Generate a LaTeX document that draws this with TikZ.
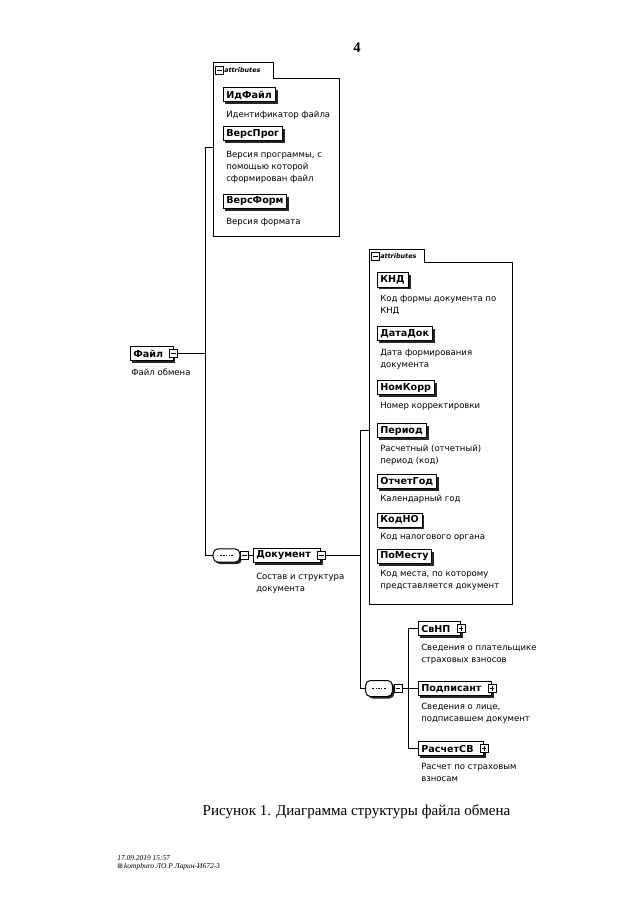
\documentclass[tikz,border=0pt]{standalone}
\usepackage{fontspec}
\setmainfont{Liberation Serif}
\newfontfamily\dv{DejaVu Sans}
\usetikzlibrary{shadows,shapes.misc}
\begin{document}
\begin{tikzpicture}[x=0.75pt,y=-0.75pt,
  conn/.style={line width=0.75pt},
  elem/.style={draw, line width=0.75pt, fill=white, font=\dv\bfseries\fontsize{7.2}{8}\selectfont,
    inner xsep=2.5pt, inner ysep=0pt, minimum height=10.5pt, anchor=west,
    drop shadow={shadow xshift=1.8pt, shadow yshift=-1.8pt, opacity=1, fill=black!85}},
  desc/.style={font=\dv\fontsize{6.4}{9}\selectfont, anchor=north west, align=left, inner sep=0pt},
  minusic/.style={draw, fill=white, minimum size=6pt, inner sep=0pt, line width=0.6pt,
    path picture={\draw[line width=0.6pt] ([xshift=1.2pt]path picture bounding box.west) -- ([xshift=-1.2pt]path picture bounding box.east);}},
  plusic/.style={minusic, path picture={\draw[line width=0.6pt] ([xshift=1.2pt]path picture bounding box.west) -- ([xshift=-1.2pt]path picture bounding box.east);
      \draw[line width=0.6pt] ([yshift=1.2pt]path picture bounding box.south) -- ([yshift=-1.2pt]path picture bounding box.north);}},
  attrbox/.style={inner sep=0pt, anchor=north west},
  attrline/.style={line width=0.75pt},
  tablabel/.style={font=\dv\itshape\bfseries\fontsize{4.8}{5}\selectfont, anchor=west, inner sep=0pt},
  seqnode/.style={rectangle, rounded corners=3.6pt,
    draw, fill=white, line width=0.75pt, minimum width=20pt, minimum height=10pt, inner sep=0pt,
    drop shadow={shadow xshift=1.5pt, shadow yshift=-1.5pt, opacity=1, fill=black!85},
    path picture={\draw[line width=1.1pt, dash pattern=on 1.6pt off 1pt on 1pt off 1pt on 1pt off 1pt on 1pt off 1pt on 1.6pt] ([xshift=-5pt]path picture bounding box.center) -- ([xshift=5pt]path picture bounding box.center);}},
  serifcap/.style={font=\fontsize{11.3}{14}\selectfont, inner sep=0pt},
  footer/.style={font=\itshape\fontsize{5.6}{7}\selectfont, anchor=west, inner sep=0pt}
]
\useasboundingbox[fill=white] (0,0) rectangle (640,905);

% page number
\node[font=\fontsize{11}{12}\selectfont\bfseries, inner sep=0pt] (pagenum) at (357,48) {4};

% ---------- attributes box 1 ----------
\node[attrbox, minimum width=93.75pt, minimum height=117.75pt] (ab1) at (213.5,78.5) {};
\node[attrbox, anchor=south west, minimum width=44.25pt, minimum height=11.25pt] (tab1) at (ab1.north west) {};
\draw[attrline] (ab1.south west) -- (tab1.north west) -- (tab1.north east) -- (tab1.south east) -- (ab1.north east) -- (ab1.south east) -- cycle;
\node[minusic, minimum size=5.5pt] (tab1ic) at (219.5,70.5) {};
\node[tablabel] (tab1lbl) at (224,70.5) {attributes};

\node[elem] (idfile) at (222.5,95) {ИдФайл};
\node[desc] (idfiled) at (226,111) {Идентификатор файла};
\node[elem] (versprog) at (222.5,134) {ВерсПрог};
\node[desc] (versprogd) at (226,151) {Версия программы, с\\помощью которой\\сформирован файл};
\node[elem] (versform) at (222.5,201.5) {ВерсФорм};
\node[desc] (versformd) at (226,218) {Версия формата};

% ---------- root element ----------
\node[elem] (file) at (129.5,353.5) {Файл\kern5pt};
\node[minusic] (fileic) at (file.east) {};
\node[desc] (filed) at (131,369) {Файл обмена};

\coordinate (jf) at (205.5,353.5);
\coordinate (v1top) at (205.5,147.5);
\coordinate (v1bot) at (205.5,555.5);
\draw[conn] (fileic.east) -- (jf);

% ---------- sequence 1 and Документ ----------
\node[seqnode] (seq1) at (226.5,555.5) {};
\node[minusic] (seq1ic) at (244.5,555.5) {};
\node[elem] (doc) at (252.5,555.5) {Документ\kern5pt};
\node[minusic] (docic) at (doc.east) {};
\node[desc] (docd) at (256,573) {Состав и структура\\документа};

\draw[conn] (ab1.west |- v1top) -- (v1top) -- (v1bot) -- (seq1.west);
\draw[conn] (seq1.east) -- (seq1ic.west);
\draw[conn] (seq1ic.east) -- (doc.west);

% ---------- attributes box 2 ----------
\node[attrbox, minimum width=106.5pt, minimum height=255.75pt] (ab2) at (369.5,262.5) {};
\node[attrbox, anchor=south west, minimum width=40.5pt, minimum height=9pt] (tab2) at (ab2.north west) {};
\draw[attrline] (ab2.south west) -- (tab2.north west) -- (tab2.north east) -- (tab2.south east) -- (ab2.north east) -- (ab2.south east) -- cycle;
\node[minusic, minimum size=5.5pt] (tab2ic) at (375.5,256.5) {};
\node[tablabel] (tab2lbl) at (380,256.5) {attributes};

\node[elem] (knd) at (376.5,280) {КНД};
\node[desc] (kndd) at (380,295) {Код формы документа по\\КНД};
\node[elem] (datadok) at (376.5,333.5) {ДатаДок};
\node[desc] (datadokd) at (380,349) {Дата формирования\\документа};
\node[elem] (nomkorr) at (376.5,387.5) {НомКорр};
\node[desc] (nomkorrd) at (380,402) {Номер корректировки};
\node[elem] (period) at (376.5,430.5) {Период};
\node[desc] (periodd) at (380,445) {Расчетный (отчетный)\\период (код)};
\node[elem] (otchgod) at (376.5,481.5) {ОтчетГод};
\node[desc] (otchgodd) at (380,495) {Календарный год};
\node[elem] (kodno) at (376.5,520) {КодНО};
\node[desc] (kodnod) at (380,533) {Код налогового органа};
\node[elem] (pomestu) at (376.5,556.5) {ПоМесту};
\node[desc] (pomestud) at (380,570) {Код места, по которому\\представляется документ};

% ---------- sequence 2 ----------
\coordinate (v2top) at (360.5,430.5);
\coordinate (v2bot) at (360.5,688.5);
\coordinate (jdoc) at (360.5,555.5);
\draw[conn] (docic.east) -- (jdoc);

\node[seqnode, minimum height=12pt] (seq2) at (379,688.5) {};
\node[minusic] (seq2ic) at (398,688.5) {};
\draw[conn] (ab2.west |- v2top) -- (v2top) -- (v2bot) -- (seq2.west);
\draw[conn] (seq2.east) -- (seq2ic.west);

\node[elem] (svnp) at (417.5,628.5) {СвНП\kern5pt};
\node[plusic] (svnpic) at (svnp.east) {};
\node[desc] (svnpd) at (421,644) {Сведения о плательщике\\страховых взносов};
\node[elem] (podp) at (417.5,688.5) {Подписант\kern5pt};
\node[plusic] (podpic) at (podp.east) {};
\node[desc] (podpd) at (421,703) {Сведения о лице,\\подписавшем документ};
\node[elem] (rasch) at (417.5,748.5) {РасчетСВ\kern5pt};
\node[plusic] (raschic) at (rasch.east) {};
\node[desc] (raschd) at (421,763) {Расчет по страховым\\взносам};

\coordinate (jb) at (408.5,688.5);
\draw[conn] (seq2ic.east) -- (jb);
\draw[conn] (svnp.west) -- (svnp.west -| jb) -- (rasch.west -| jb) -- (rasch.west);
\draw[conn] (jb) -- (podp.west);

% ---------- caption and footer ----------
\node[serifcap] (caption) at (356.5,812) {Рисунок 1. Диаграмма структуры файла обмена};
\node[footer] (foot1) at (117,858) {17.09.2019 15:57};
\node[footer] (foot2) at (117,867) {{\dv\upshape\fontsize{5}{6}\selectfont ⊞}\,kompburo ЛО.Р Ларин-И672-3};
\end{tikzpicture}
\end{document}
